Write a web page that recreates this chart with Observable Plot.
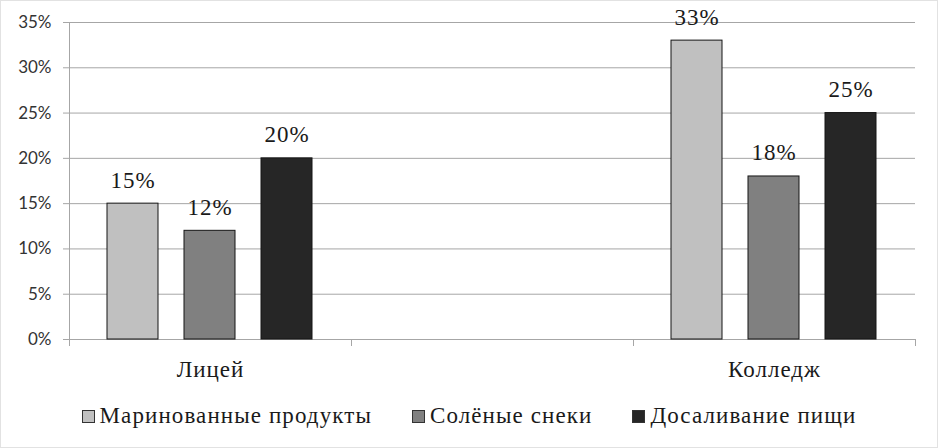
<!DOCTYPE html>
<html>
<head>
<meta charset="utf-8">
<script src="https://cdn.jsdelivr.net/npm/d3@7"></script>
<script src="https://cdn.jsdelivr.net/npm/@observablehq/plot@0.6"></script>
<style>
  html, body { margin: 0; padding: 0; background: #fff; }
  body { width: 938px; height: 448px; position: relative; overflow: hidden; }
  #chart svg { display: block; }
  #chart svg .serif text, #chart svg text.serif { letter-spacing: 1px; }
  #legend {
    position: absolute; left: 0; width: 938px; top: 403px;
    display: flex; justify-content: center; align-items: center; gap: 40px;
    font-family: "Liberation Serif", "Times New Roman", serif; font-size: 23px; color: #1a1a1a;
    letter-spacing: 1.1px;
  }
  .item { display: flex; align-items: center; gap: 5px; }
  .sw { width: 11px; height: 11px; border: 1px solid #333; }
  #border { position: absolute; left: 0; top: 0; width: 938px; height: 448px; box-sizing: border-box;
    border: 1px solid #e2e2e2; pointer-events: none; }
</style>
</head>
<body>
<div id="chart"></div>
<div id="legend"></div>
<div id="border"></div>
<script>
const categories = ["Лицей", " ", "Колледж"];
const series = ["Маринованные продукты", "Солёные снеки", "Досаливание пищи"];
const liceumValues = [15, 12, 20];
const emptyValues = [null, null, null];
const collegeValues = [33, 18, 25];
const yTicks = [0, 5, 10, 15, 20, 25, 30, 35];
const colors = ["#c0c0c0", "#808080", "#262626"];

const data = [
  ...series.map((s, i) => ({category: categories[0], series: s, value: liceumValues[i]})),
  ...series.map((s, i) => ({category: categories[1], series: s, value: emptyValues[i]})),
  ...series.map((s, i) => ({category: categories[2], series: s, value: collegeValues[i]}))
];
const labelled = data.filter(d => d.value != null);

const serif = "'Liberation Serif', 'Times New Roman', serif";
const axisGrey = "#a6a6a6";

const chart = Plot.plot({
  width: 938,
  height: 390,
  marginLeft: 68,
  marginRight: 22,
  marginTop: 22,
  marginBottom: 45,
  style: {background: "transparent"},
  fx: {domain: categories, padding: 0, label: null},
  x: {domain: series, paddingInner: 1 / 3, paddingOuter: 0.48, axis: null},
  y: {domain: [0, 35], insetBottom: 6, label: null, axis: null},
  color: {domain: series, range: colors},
  marks: [
    Plot.gridY(yTicks, {stroke: axisGrey, strokeOpacity: 1, strokeWidth: 1}),
    Plot.ruleY([0], {stroke: axisGrey, strokeWidth: 1}),
    Plot.frame({anchor: "left", facetAnchor: "left", stroke: axisGrey, strokeWidth: 1}),
    Plot.frame({anchor: "left", insetTop: 317, stroke: axisGrey, strokeWidth: 1}),
    Plot.frame({anchor: "right", insetTop: 317, stroke: axisGrey, strokeWidth: 1}),
    Plot.axisY({
      ticks: yTicks, tickSize: 6, tickPadding: 12, stroke: axisGrey,
      tickFormat: d => d + "%", label: null,
      fontSize: 17, fontFamily: "Lato, 'Open Sans', sans-serif", fill: "#333"
    }),
    Plot.axisFx({
      anchor: "bottom", tickSize: 0, tickPadding: 15, label: null,
      fontSize: 23, fontFamily: serif, fill: "#1a1a1a", className: "serif"
    }),
    Plot.barY(data, {
      fx: "category", x: "series", y: "value", fill: "series",
      stroke: "#151515", strokeWidth: 1
    }),
    Plot.text(labelled, {
      fx: "category", x: "series", y: "value",
      text: d => d.value + "%", lineAnchor: "bottom", dy: -16,
      fontSize: 23, fontFamily: serif, fill: "#1a1a1a", className: "serif"
    })
  ]
});
document.getElementById("chart").appendChild(chart);

const legend = document.getElementById("legend");
series.forEach((s, i) => {
  const item = document.createElement("div");
  item.className = "item";
  const sw = document.createElement("div");
  sw.className = "sw";
  sw.style.background = colors[i];
  const label = document.createElement("span");
  label.textContent = s;
  item.appendChild(sw);
  item.appendChild(label);
  legend.appendChild(item);
});
</script>
</body>
</html>
